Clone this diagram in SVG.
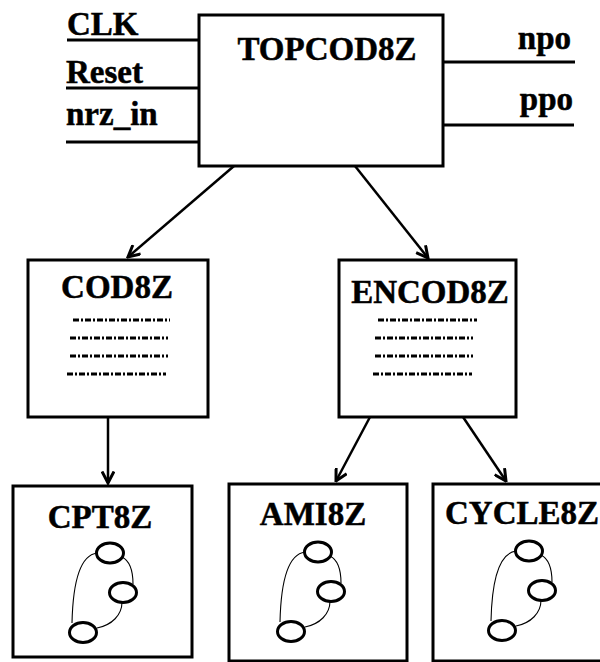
<svg xmlns="http://www.w3.org/2000/svg" width="600" height="662" viewBox="0 0 600 662">
  <style>
    .box { fill: #fff; stroke: #000; stroke-width: 3; }
    .lbl { font-family: "Liberation Serif", "Times New Roman", serif; font-weight: bold; font-size: 33px; fill: #000; stroke: #000; stroke-width: 0.5; }
    .port { stroke: #000; stroke-width: 3; }
    .conn { stroke: #000; stroke-width: 2.5; fill: none; marker-end: url(#arr); }
    .dd { stroke: #000; stroke-width: 3; stroke-dasharray: 6 2 2 2; }
    .st { fill: #fff; stroke: #000; stroke-width: 3; }
    .tr { fill: none; stroke: #000; stroke-width: 1.1; }
  </style>
  <defs>
    <marker id="arr" viewBox="0 0 14 14" refX="12.5" refY="7" markerWidth="14" markerHeight="14" markerUnits="userSpaceOnUse" orient="auto">
      <path d="M1,1 L12.5,7 L1,13" fill="none" stroke="#000" stroke-width="3"/>
    </marker>
    <!-- small three-state machine sketch, origin at the top state -->
    <g id="fsm">
      <path class="tr" d="M-13,0 C-28,2 -37,25 -38,70"/>
      <path class="tr" d="M12,4 C20,8 23,18 23,31"/>
      <path class="tr" d="M12,49 C12,62 2,72 -13,75"/>
      <ellipse class="st" cx="0" cy="0" rx="13.5" ry="10"/>
      <ellipse class="st" cx="13" cy="39.5" rx="13.5" ry="10"/>
      <ellipse class="st" cx="-27" cy="79.5" rx="13.5" ry="10"/>
    </g>
  </defs>

  <rect width="600" height="662" fill="#fff"/>

  <!-- connectors -->
  <g id="connectors">
    <line class="conn" x1="234" y1="166" x2="128" y2="257"/>
    <line class="conn" x1="355" y1="166" x2="428" y2="258"/>
    <line class="conn" x1="108" y1="417" x2="108" y2="483"/>
    <line class="conn" x1="370" y1="417" x2="336" y2="481"/>
    <line class="conn" x1="463" y1="417" x2="506" y2="481"/>
  </g>

  <!-- top-level entity with its ports -->
  <g id="topcod8z">
    <line class="port" x1="67" y1="40" x2="199" y2="40"/>
    <line class="port" x1="66" y1="88" x2="199" y2="88"/>
    <line class="port" x1="66" y1="142" x2="199" y2="142"/>
    <line class="port" x1="443" y1="62" x2="575" y2="62"/>
    <line class="port" x1="443" y1="125" x2="574" y2="125"/>
    <rect class="box" x="199" y="15" width="244" height="151"/>
    <text class="lbl" x="67" y="35">CLK</text>
    <text class="lbl" x="66" y="83">Reset</text>
    <text class="lbl" x="66" y="125">nrz_in</text>
    <text class="lbl" x="571" y="49" text-anchor="end">npo</text>
    <text class="lbl" x="573" y="110" text-anchor="end">ppo</text>
    <text class="lbl" x="327" y="60" text-anchor="middle">TOPCOD8Z</text>
  </g>

  <g id="cod8z">
    <rect class="box" x="28" y="260" width="180" height="157"/>
    <text class="lbl" x="117" y="298" text-anchor="middle">COD8Z</text>
    <line class="dd" x1="73" y1="320" x2="170" y2="320"/>
    <line class="dd" x1="70" y1="338" x2="168" y2="338"/>
    <line class="dd" x1="70" y1="356" x2="168" y2="356"/>
    <line class="dd" x1="67" y1="374" x2="166" y2="374"/>
  </g>

  <g id="encod8z">
    <rect class="box" x="339" y="260" width="177" height="157"/>
    <text class="lbl" x="430" y="303" text-anchor="middle">ENCOD8Z</text>
    <line class="dd" x1="378" y1="320" x2="477" y2="320"/>
    <line class="dd" x1="375" y1="338" x2="473" y2="338"/>
    <line class="dd" x1="375" y1="356" x2="473" y2="356"/>
    <line class="dd" x1="373" y1="374" x2="472" y2="374"/>
  </g>

  <g id="cpt8z">
    <rect class="box" x="13" y="486" width="179" height="171"/>
    <text class="lbl" x="100" y="528" text-anchor="middle">CPT8Z</text>
    <use href="#fsm" x="110" y="553"/>
  </g>

  <g id="ami8z">
    <rect class="box" x="229" y="484" width="178" height="177"/>
    <text class="lbl" x="313" y="525" text-anchor="middle">AMI8Z</text>
    <use href="#fsm" x="318" y="552"/>
  </g>

  <g id="cycle8z">
    <rect class="box" x="433" y="484" width="180" height="177"/>
    <text class="lbl" x="445" y="524">CYCLE8Z</text>
    <use href="#fsm" x="529" y="551"/>
  </g>
</svg>
